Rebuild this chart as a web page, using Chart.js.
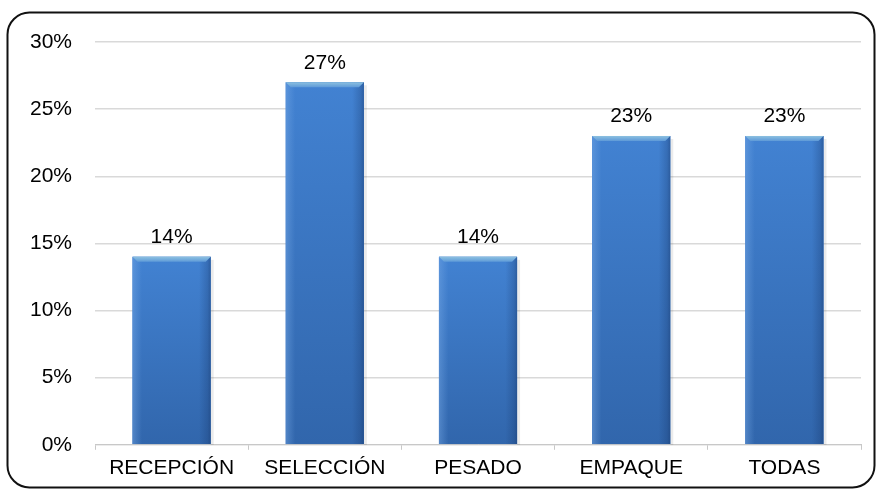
<!DOCTYPE html>
<html>
<head>
<meta charset="utf-8">
<script src="https://cdn.jsdelivr.net/npm/chart.js@4/dist/chart.umd.min.js"></script>
<style>
  html, body { margin: 0; padding: 0; background: #fff; }
  #wrap { width: 879px; height: 492px; position: relative; }
</style>
</head>
<body>
<div id="wrap"><canvas id="chart" width="879" height="492"></canvas></div>
<script>
const etapas = ['RECEPCIÓN', 'SELECCIÓN', 'PESADO', 'EMPAQUE', 'TODAS'];
const porcentajes = [14, 27, 14, 23, 23];
const yTicks = [0, 5, 10, 15, 20, 25, 30];

const FONT = '"Liberation Sans", Arial, sans-serif';

// rounded frame around the whole figure
const marco = {
    id: 'marco',
    beforeDraw(chart) {
        const ctx = chart.ctx;
        ctx.save();
        ctx.fillStyle = '#fff';
        ctx.fillRect(0, 0, chart.width, chart.height);
        ctx.beginPath();
        ctx.roundRect(7.5, 12.5, 867, 475, 22);
        ctx.lineWidth = 2;
        ctx.strokeStyle = '#111';
        ctx.stroke();
        ctx.restore();
    }
};

// shaded bars with a light bevel on top, plus value labels
const barras = {
    id: 'barras',
    afterDatasetsDraw(chart) {
        const ctx = chart.ctx;
        const meta = chart.getDatasetMeta(0);
        meta.data.forEach((bar, i) => {
            const left = bar.x - bar.width / 2;
            const right = bar.x + bar.width / 2;
            const w = right - left;
            const top = bar.y;
            const base = bar.base;
            ctx.save();

            // faint shadow to the right
            ctx.fillStyle = 'rgba(0,0,0,0.08)';
            ctx.fillRect(right, top + 3, 3, base - top - 2);

            const v = ctx.createLinearGradient(0, top, 0, base);
            v.addColorStop(0, '#4282d2');
            v.addColorStop(1, '#3166ac');
            ctx.fillStyle = v;
            ctx.fillRect(left, top, w, base - top);

            const h = ctx.createLinearGradient(left, 0, right, 0);
            h.addColorStop(0, 'rgba(120,170,230,0.45)');
            h.addColorStop(0.05, 'rgba(120,170,230,0.25)');
            h.addColorStop(0.12, 'rgba(120,170,230,0.0)');
            h.addColorStop(0.85, 'rgba(20,50,100,0.0)');
            h.addColorStop(0.96, 'rgba(20,50,100,0.25)');
            h.addColorStop(1, 'rgba(20,50,100,0.45)');
            ctx.fillStyle = h;
            ctx.fillRect(left, top, w, base - top);

            // bevel at the top
            const b = 5;
            ctx.beginPath();
            ctx.moveTo(left, top);
            ctx.lineTo(right, top);
            ctx.lineTo(right - b, top + b);
            ctx.lineTo(left + b, top + b);
            ctx.closePath();
            const t = ctx.createLinearGradient(0, top, 0, top + b);
            t.addColorStop(0, '#8cc0e0');
            t.addColorStop(1, '#5e9ad8');
            ctx.fillStyle = t;
            ctx.fill();

            ctx.fillStyle = '#000';
            ctx.font = '21px ' + FONT;
            ctx.textAlign = 'center';
            ctx.textBaseline = 'bottom';
            ctx.fillText(porcentajes[i] + '%', bar.x, top - 9);
            ctx.restore();
        });
    }
};

new Chart(document.getElementById('chart'), {
    type: 'bar',
    data: {
        labels: etapas,
        datasets: [{
            data: porcentajes,
            backgroundColor: '#3c7bcb',
            borderWidth: 0,
            categoryPercentage: 1,
            barPercentage: 0.51
        }]
    },
    options: {
        responsive: false,
        animation: false,
        layout: { padding: { left: 7, right: 18, top: 42, bottom: 5 } },
        plugins: { legend: { display: false }, tooltip: { enabled: false } },
        scales: {
            x: {
                grid: { display: true, drawOnChartArea: false, offset: true, color: '#c8c8c8', tickLength: 5 },
                border: { color: '#c8c8c8' },
                ticks: { color: '#000', font: { family: FONT, size: 21 }, padding: 6, maxRotation: 0 }
            },
            y: {
                min: 0,
                max: 30,
                afterBuildTicks: axis => { axis.ticks = yTicks.map(v => ({ value: v })); },
                grid: { color: '#d9d9d9', lineWidth: 1.5, drawTicks: false },
                border: { display: false },
                ticks: { color: '#000', font: { family: FONT, size: 21 }, padding: 23, callback: v => v + '%' }
            }
        }
    },
    plugins: [marco, barras]
});
</script>
</body>
</html>
